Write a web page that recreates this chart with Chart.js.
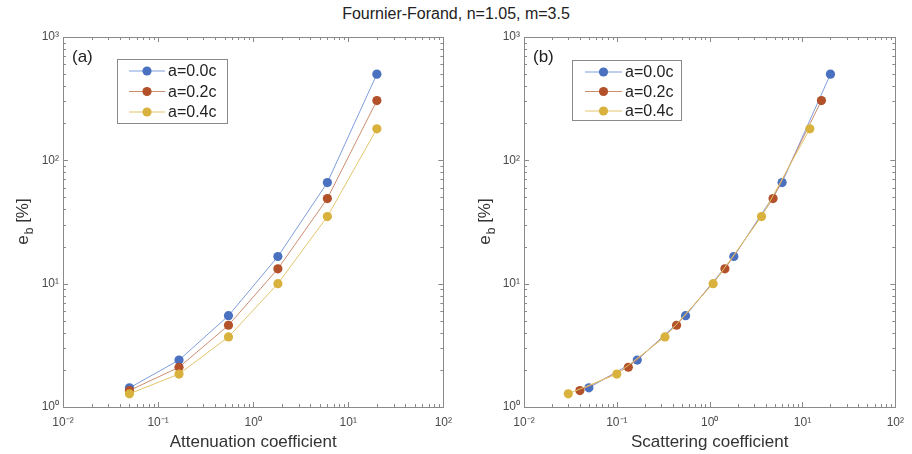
<!DOCTYPE html>
<html>
<head>
<meta charset="utf-8">
<script src="https://cdn.jsdelivr.net/npm/chart.js@4/dist/chart.umd.min.js"></script>
<style>
  body { margin: 0; background: #fff; width: 912px; height: 454px; overflow: hidden; position: relative; font-family: "Liberation Sans", Arial, sans-serif; }
  #title { position: absolute; left: 0; width: 912px; top: 5px; text-align: center; font-size: 16px; color: #222; }
  .box { position: absolute; top: 0; height: 454px; }
</style>
</head>
<body>
<div id="title">Fournier-Forand, n=1.05, m=3.5</div>
<div class="box" style="left:0;width:460px"><canvas id="chartA"></canvas></div>
<div class="box" style="left:460px;width:452px"><canvas id="chartB"></canvas></div>
<script>
// series labels
const seriesLabels = ['a=0.0c', 'a=0.2c', 'a=0.4c'];
// attenuation coefficient (panel a) and scattering coefficient b=c-a (panel b)
const attenuation = [0.05, 0.166, 0.55, 1.82, 6.03, 20];
const scatter00 = [0.05, 0.166, 0.55, 1.82, 6.03, 20];
const scatter02 = [0.04, 0.133, 0.44, 1.46, 4.82, 16];
const scatter04 = [0.03, 0.1, 0.33, 1.09, 3.62, 12];
// e_b [%]
const eb00 = [1.43, 2.4, 5.5, 16.6, 66, 500];
const eb02 = [1.36, 2.1, 4.6, 13.2, 49, 305];
const eb04 = [1.28, 1.85, 3.7, 10.0, 35, 180];
// tick labels
const xTicks = [0.01, 0.1, 1, 10, 100];
const xTickLabels = ['10\u207B\u00B2', '10\u207B\u00B9', '10\u2070', '10\u00B9', '10\u00B2'];
const yTicks = [1, 10, 100, 1000];
const yTickLabels = ['10\u2070', '10\u00B9', '10\u00B2', '10\u00B3'];

const markerColors = ['#4a70c0', '#b2512a', '#d8b23c'];
const lineColors = ['#7f9ddb', '#cc8e70', '#e3c56c'];
const FONT = '"Liberation Sans", Arial, sans-serif';

function pts(xs, ys) { return xs.map((x, i) => ({ x: x, y: ys[i] })); }

// inward ticks, box, panel label, legend, y title with subscript
const decorPlugin = {
  id: 'decor',
  afterDraw(chart, args, opts) {
    const ctx = chart.ctx, a = chart.chartArea;
    const xs = chart.scales.x, ys = chart.scales.y;
    ctx.save();
    ctx.strokeStyle = '#8a8a8a';
    ctx.lineWidth = 1;
    ctx.beginPath();
    // x ticks
    for (let e = -2; e <= 1; e++) {
      for (let k = 1; k <= 9; k++) {
        const v = k * Math.pow(10, e);
        const px = Math.round(xs.getPixelForValue(v)) + 0.5;
        const len = k === 1 ? 5 : 3;
        ctx.moveTo(px, a.bottom); ctx.lineTo(px, a.bottom - len);
        ctx.moveTo(px, a.top); ctx.lineTo(px, a.top + len);
      }
    }
    // y ticks
    for (let e = 0; e <= 2; e++) {
      for (let k = 1; k <= 9; k++) {
        const v = k * Math.pow(10, e);
        const py = Math.round(ys.getPixelForValue(v)) + 0.5;
        const len = k === 1 ? 5 : 3;
        ctx.moveTo(a.left, py); ctx.lineTo(a.left + len, py);
        ctx.moveTo(a.right, py); ctx.lineTo(a.right - len, py);
      }
    }
    ctx.stroke();
    ctx.strokeRect(Math.round(a.left) + 0.5, Math.round(a.top) + 0.5, Math.round(a.right - a.left), Math.round(a.bottom - a.top));

    // panel label
    ctx.fillStyle = '#222';
    ctx.font = '17px ' + FONT;
    ctx.textBaseline = 'middle';
    ctx.textAlign = 'left';
    ctx.fillText(opts.panel, a.left + 9, a.top + 20);

    // legend
    const L = opts.legend;
    ctx.fillStyle = '#fff';
    ctx.fillRect(a.left + L.x, a.top + L.y, L.w, L.h);
    ctx.strokeStyle = '#8a8a8a';
    ctx.strokeRect(Math.round(a.left + L.x) + 0.5, Math.round(a.top + L.y) + 0.5, L.w, L.h);
    seriesLabels.forEach((lab, i) => {
      const cy = a.top + L.y + L.row0 + i * L.dy;
      const x0 = a.left + L.x + L.lx;
      ctx.strokeStyle = lineColors[i];
      ctx.beginPath(); ctx.moveTo(x0, cy); ctx.lineTo(x0 + L.lw, cy); ctx.stroke();
      ctx.fillStyle = markerColors[i];
      ctx.beginPath(); ctx.arc(x0 + L.lw / 2, cy, 4.6, 0, Math.PI * 2); ctx.fill();
      ctx.fillStyle = '#222';
      ctx.font = '16px ' + FONT;
      ctx.fillText(lab, x0 + L.lw + 3, cy + 1);
    });

    // y axis title e_b [%]
    ctx.translate(opts.ytitleX, (a.top + a.bottom) / 2);
    ctx.rotate(-Math.PI / 2);
    ctx.fillStyle = '#333';
    ctx.textBaseline = 'alphabetic';
    ctx.font = '17px ' + FONT;
    const wE = ctx.measureText('e').width;
    const wR = ctx.measureText(' [%]').width;
    ctx.font = '12px ' + FONT;
    const wB = ctx.measureText('b').width;
    let x = -(wE + wB + wR) / 2;
    ctx.font = '17px ' + FONT;
    ctx.fillText('e', x, 6);
    ctx.font = '12px ' + FONT;
    ctx.fillText('b', x + wE + 1, 11);
    ctx.font = '17px ' + FONT;
    ctx.fillText(' [%]', x + wE + wB + 1, 6);
    ctx.restore();
  }
};

function makeChart(id, xTitle, xsets, cfg) {
  const datasets = seriesLabels.map((lab, i) => ({
    label: lab,
    data: pts(xsets[i], [eb00, eb02, eb04][i]),
    borderColor: lineColors[i],
    backgroundColor: markerColors[i],
    pointBackgroundColor: markerColors[i],
    pointBorderColor: markerColors[i],
    pointRadius: 4.6,
    pointBorderWidth: 0,
    borderWidth: 1,
    tension: 0,
    order: 2 - i
  }));
  return new Chart(document.getElementById(id), {
    type: 'line',
    data: { datasets },
    options: {
      responsive: false,
      animation: false,
      layout: { padding: { top: 37, right: cfg.padRight, left: 0, bottom: 0 } },
      plugins: {
        legend: { display: false },
        tooltip: { enabled: false },
        decor: cfg.decor
      },
      scales: {
        x: {
          type: 'logarithmic', min: 0.01, max: 100,
          afterBuildTicks: s => { s.ticks = xTicks.map(v => ({ value: v })); },
          afterFit: s => { s.height = 47; },
          grid: { display: false, drawTicks: false },
          border: { display: false },
          ticks: {
            autoSkip: false, maxRotation: 0, padding: 8,
            color: '#4a4a4a', font: { family: FONT, size: 12 },
            callback: (v) => xTickLabels[xTicks.indexOf(v)]
          },
          title: { display: true, text: xTitle, color: '#333', font: { family: FONT, size: 17 }, padding: { top: 0, bottom: 1 } }
        },
        y: {
          type: 'logarithmic', min: 1, max: 1000,
          afterBuildTicks: s => { s.ticks = yTicks.map(v => ({ value: v })); },
          afterFit: s => { s.width = cfg.yWidth; },
          grid: { display: false, drawTicks: false },
          border: { display: false },
          ticks: {
            autoSkip: false, padding: 4,
            color: '#4a4a4a', font: { family: FONT, size: 12 },
            callback: (v) => yTickLabels[yTicks.indexOf(v)]
          }
        }
      }
    },
    plugins: [decorPlugin]
  });
}

const cA = document.getElementById('chartA'); cA.width = 460; cA.height = 454;
const cB = document.getElementById('chartB'); cB.width = 452; cB.height = 454;

makeChart('chartA', 'Attenuation coefficient', [attenuation, attenuation, attenuation], {
  padRight: 6, yWidth: 63,
  decor: { panel: '(a)', ytitleX: 22, legend: { x: 54, y: 22, w: 110, h: 64, lx: 12, lw: 36, row0: 12, dy: 20.5 } }
});
makeChart('chartB', 'Scattering coefficient', [scatter00, scatter02, scatter04], {
  padRight: 12, yWidth: 64,
  decor: { panel: '(b)', ytitleX: 24, legend: { x: 48, y: 23, w: 109, h: 60, lx: 13, lw: 37, row0: 12, dy: 19.5 } }
});
</script>
</body>
</html>
